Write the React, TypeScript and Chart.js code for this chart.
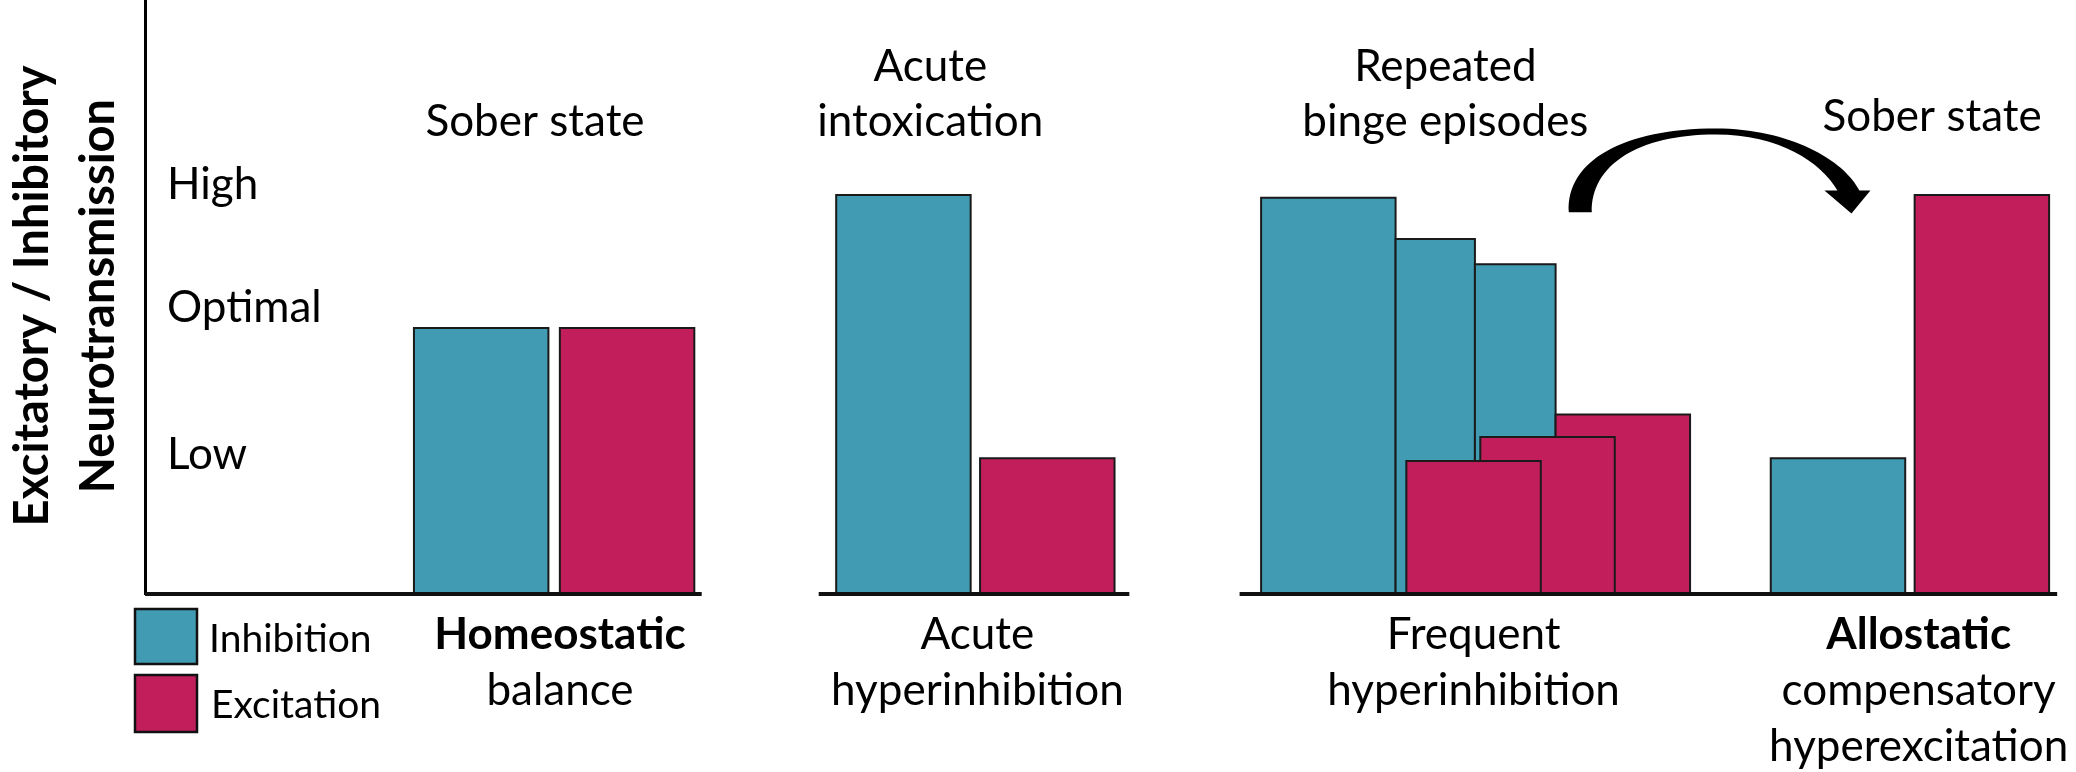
import React, { useEffect, useRef } from 'react';
import { Chart, registerables } from 'chart.js';

Chart.register(...registerables);

const FONT = 'Lato, "Open Sans", sans-serif';

// ---- data ----
const seriesNames = ['Inhibition', 'Excitation'];
const seriesColors = ['#419BB3', '#C21E5C'];

// level tick labels and where they sit on the level axis
const levelNames = ['Low', 'Optimal', 'High'];
const levelLabelAt = [1.05, 2.15, 3.08];

// bars, listed in drawing order (later ones on top); extents along the stage axis
const barType = ['Inhibition', 'Excitation', 'Inhibition', 'Excitation', 'Inhibition', 'Inhibition', 'Inhibition', 'Excitation', 'Excitation', 'Excitation', 'Inhibition', 'Excitation'];
const barFrom = [2.0, 3.085, 5.14, 6.21, 8.3, 9.3, 9.89, 10.49, 9.93, 9.38, 12.09, 13.16];
const barTo = [3.0, 4.085, 6.14, 7.21, 9.3, 9.89, 10.49, 11.49, 10.93, 10.38, 13.09, 14.16];
const barLevel = [2.0, 2.0, 3.0, 1.02, 2.98, 2.67, 2.48, 1.35, 1.18, 1.0, 1.02, 3.0];

// baseline segments
const axisFrom = [0, 5.01, 8.14];
const axisTo = [4.14, 7.32, 14.22];

// annotations
const topX = [2.9, 5.84, 9.67, 13.29];
const topY = [3.44, 3.44, 3.44, 3.48];
const topText = [['Sober state'], ['Acute', 'intoxication'], ['Repeated', 'binge episodes'], ['Sober state']];

const bottomX = [3.086, 6.19, 9.88, 13.19];
const bottomText = [['Homeostatic', 'balance'], ['Acute', 'hyperinhibition'], ['Frequent', 'hyperinhibition'], ['Allostatic', 'compensatory', 'hyperexcitation']];
const bottomBoldFirst = [true, false, false, true];

const arrowFrom = [10.67, 2.87];
const arrowTo = [12.69, 2.86];
const arrowTop = 3.5;

const titleLines = ['Excitatory / Inhibitory', 'Neurotransmission'];

const stageMax = 14.36;
const levelMax = 4.466;

const annotPlugin = {
  id: 'annot',
  afterDraw(chart: any) {
    const { ctx, chartArea, scales } = chart;
    const x = scales.x;
    const y = scales.y;
    ctx.save();
    ctx.fillStyle = '#000';

    // y axis title (rotated)
    ctx.font = `bold 47px ${FONT}`;
    ctx.textAlign = 'center';
    ctx.textBaseline = 'alphabetic';
    const midY = 296;
    [chartArea.left - 97, chartArea.left - 31].forEach((bx, i) => {
      ctx.save();
      ctx.translate(bx, midY);
      ctx.rotate(-Math.PI / 2);
      ctx.fillText(titleLines[i], 0, 0);
      ctx.restore();
    });

    // level labels
    ctx.font = `44px ${FONT}`;
    ctx.textAlign = 'left';
    ctx.textBaseline = 'middle';
    levelLabelAt.forEach((v, i) => {
      ctx.fillText(levelNames[i], chartArea.left + 22, y.getPixelForValue(v));
    });

    // top labels
    ctx.textAlign = 'center';
    ctx.textBaseline = 'alphabetic';
    topX.forEach((xv, i) => {
      const lines = topText[i];
      const px = x.getPixelForValue(xv);
      const base = y.getPixelForValue(topY[i]);
      lines.forEach((t, j) => {
        ctx.fillText(t, px, base - (lines.length - 1 - j) * 55);
      });
    });

    // bottom labels
    bottomX.forEach((xv, i) => {
      const px = x.getPixelForValue(xv);
      bottomText[i].forEach((t, j) => {
        ctx.font = (j === 0 && bottomBoldFirst[i]) ? `bold 44px ${FONT}` : `44px ${FONT}`;
        ctx.fillText(t, px, chartArea.bottom + 55 + j * 56);
      });
    });

    // legend
    const lx = chartArea.left - 10;
    const boxes = [[chartArea.bottom + 15, 55], [chartArea.bottom + 81, 57]];
    ctx.font = `39px ${FONT}`;
    ctx.textAlign = 'left';
    seriesNames.forEach((name, i) => {
      const [by, bh] = boxes[i];
      ctx.fillStyle = seriesColors[i];
      ctx.fillRect(lx, by, 62, bh);
      ctx.lineWidth = 2.5;
      ctx.strokeStyle = '#111';
      ctx.strokeRect(lx, by, 62, bh);
      ctx.fillStyle = '#000';
      ctx.fillText(name, lx + 74 + i * 2, by + 43);
    });

    // curved arrow
    const p0x = x.getPixelForValue(arrowFrom[0]);
    const p0y = y.getPixelForValue(arrowFrom[1]);
    const p1x = x.getPixelForValue(arrowTo[0]);
    const p1y = y.getPixelForValue(arrowTo[1]);
    const top = y.getPixelForValue(arrowTop);
    const mid = (p0x + p1x) / 2;
    ctx.beginPath();
    ctx.moveTo(p0x - 11, p0y);
    ctx.bezierCurveTo(p0x - 14, p0y - 52, p0x + 45, top, mid, top);
    ctx.bezierCurveTo(mid + 74, top, p1x - 7, p0y - 52, p1x + 8, p1y - 23);
    ctx.lineTo(p1x + 19, p1y - 23);
    ctx.lineTo(p1x, p1y);
    ctx.lineTo(p1x - 27, p1y - 23);
    ctx.lineTo(p1x - 14, p1y - 23);
    ctx.bezierCurveTo(p1x - 30, p0y - 50, mid + 64, top + 6, mid, top + 6);
    ctx.bezierCurveTo(p0x + 58, top + 6, p0x + 11, p0y - 47, p0x + 12, p0y);
    ctx.closePath();
    ctx.fillStyle = '#000';
    ctx.fill();

    ctx.restore();
  },
};

export default function App() {
  const ref = useRef<HTMLCanvasElement>(null);

  useEffect(() => {
    document.body.style.margin = '0';
    const canvas = ref.current;
    if (!canvas) return;

    const datasets: any[] = [];
    barFrom.forEach((from, i) => {
      const color = seriesColors[seriesNames.indexOf(barType[i])];
      datasets.push({
        label: barType[i],
        data: [
          { x: from, y: 0 },
          { x: from, y: barLevel[i] },
          { x: barTo[i], y: barLevel[i] },
          { x: barTo[i], y: 0 },
        ],
        borderColor: '#1a1a1a',
        borderWidth: 2,
        backgroundColor: color,
        fill: 'origin',
        pointRadius: 0,
        tension: 0,
        borderJoinStyle: 'miter',
        clip: false,
      });
    });
    axisFrom.forEach((from, i) => {
      datasets.push({
        label: 'axis',
        data: [
          { x: from, y: 0 },
          { x: axisTo[i], y: 0 },
        ],
        borderColor: '#111',
        borderWidth: 4,
        fill: false,
        pointRadius: 0,
        borderCapStyle: 'butt',
        clip: false,
      });
    });
    const n = datasets.length;
    datasets.forEach((d, i) => { d.order = n - i; });

    Chart.defaults.font.family = FONT;

    const chart = new Chart(canvas, {
      type: 'line',
      data: { datasets },
      options: {
        responsive: false,
        animation: false,
        devicePixelRatio: 1,
        events: [],
        layout: { padding: { left: 145, top: 0, right: 0, bottom: 178 } },
        plugins: {
          legend: { display: false },
          tooltip: { enabled: false },
          title: { display: false },
        },
        scales: {
          x: { type: 'linear', min: 0, max: stageMax, display: false },
          y: {
            type: 'linear',
            min: 0,
            max: levelMax,
            display: true,
            grid: { display: false, drawTicks: false },
            ticks: { display: false },
            border: { display: true, color: '#000', width: 3 },
          },
        },
      } as any,
      plugins: [annotPlugin],
    });

    return () => chart.destroy();
  }, []);

  return (
    <div style={{ width: 2076, height: 772, position: 'relative', background: '#fff' }}>
      <canvas ref={ref} width={2076} height={772} style={{ display: 'block' }} />
    </div>
  );
}
